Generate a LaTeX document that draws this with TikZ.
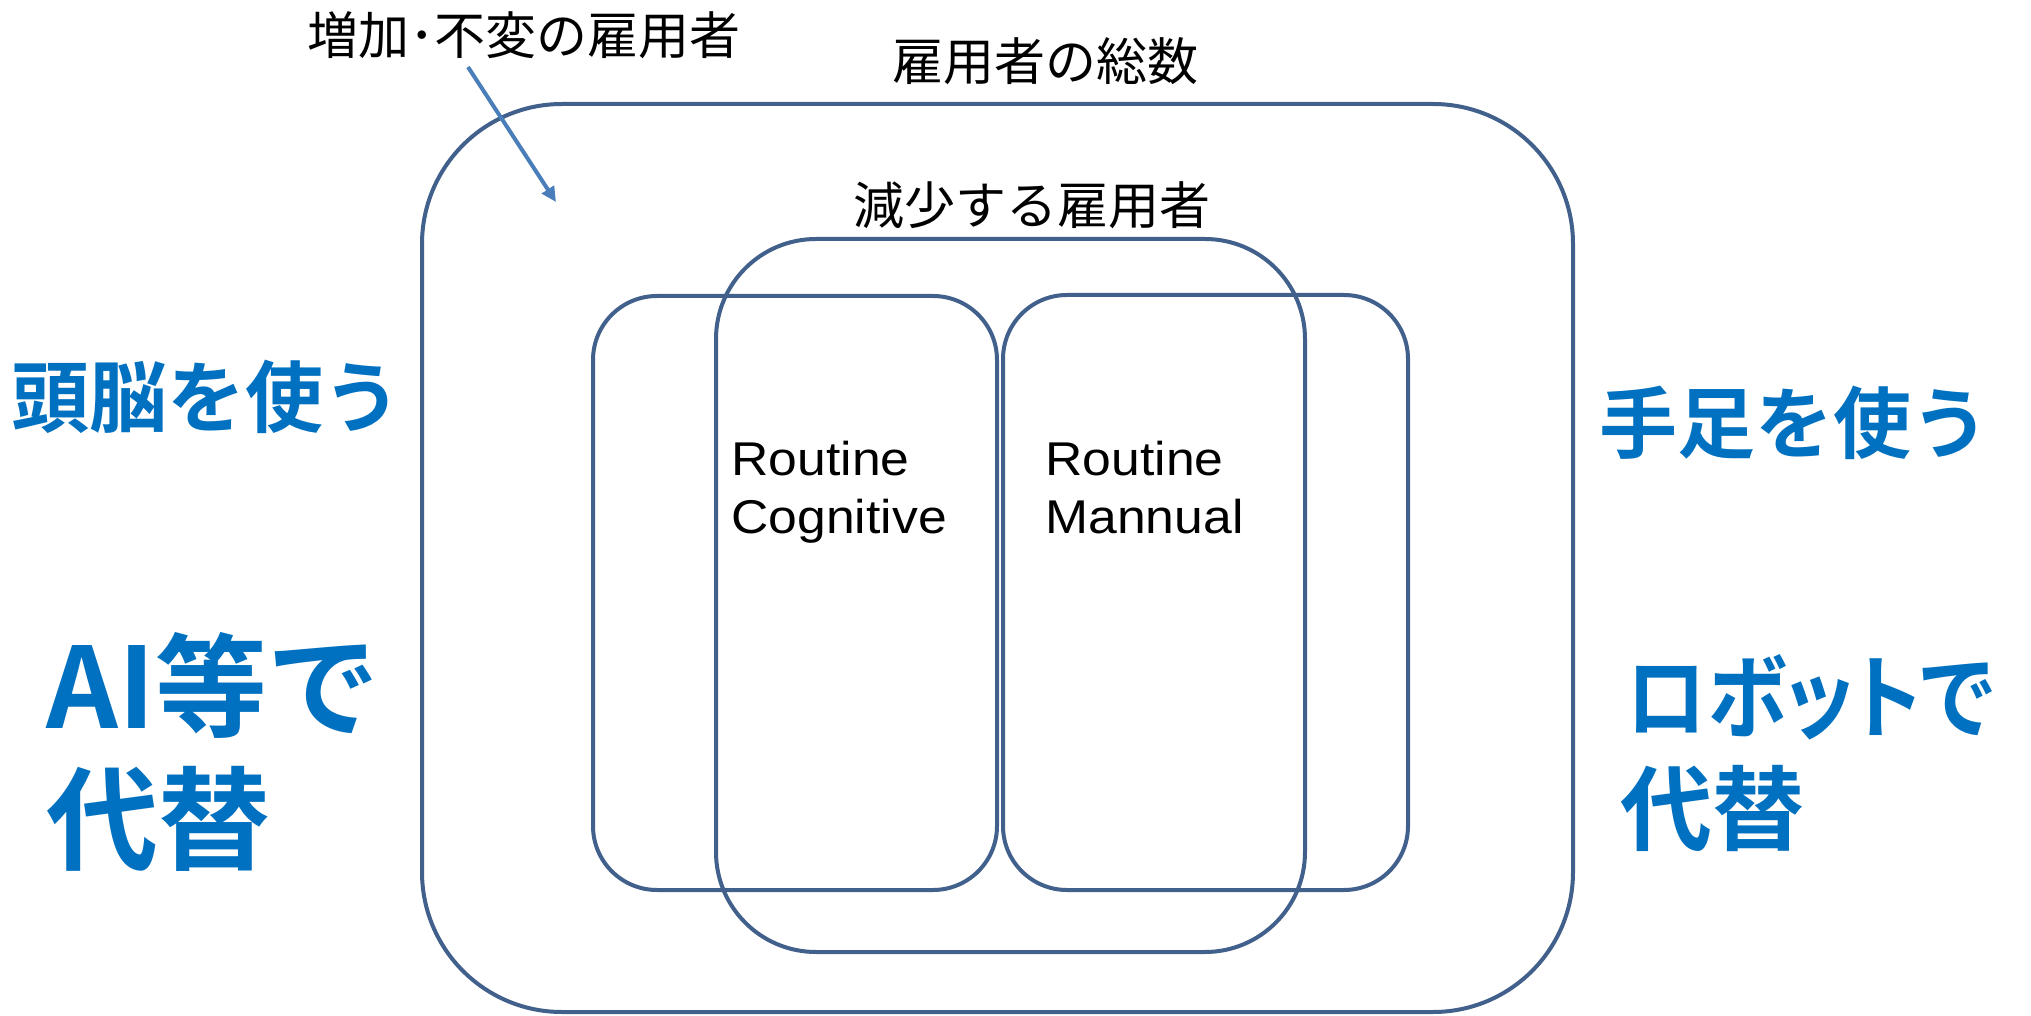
\documentclass[tikz,border=0pt]{standalone}
\usepackage{fontspec}
\usetikzlibrary{arrows.meta}
\newfontfamily\jpfont{Noto Sans CJK JP}
\newfontfamily\jpbold{Noto Sans CJK JP Bold}
\newfontfamily\jpboldp[RawFeature=+palt]{Noto Sans CJK JP Bold}
\newfontfamily\latfont{Liberation Sans}
\definecolor{boxc}{RGB}{65,96,140}
\definecolor{arrc}{RGB}{74,126,187}
\definecolor{bluet}{RGB}{0,112,192}
\tikzset{
  frame/.style={draw=boxc, line width=2pt, rectangle, inner sep=0pt},
  blk/.style={inner sep=0pt, font=\jpfont\fontsize{25.5pt}{30pt}\selectfont, text=black},
  lat/.style={inner sep=0pt, xscale=1.09, font=\latfont\fontsize{23.7pt}{28pt}\selectfont, text=black, anchor=base west},
  bluemid/.style={inner sep=0pt, anchor=base west, text=bluet, font=\jpbold\fontsize{39pt}{47pt}\selectfont},
  bluebig/.style={inner sep=0pt, anchor=base west, text=bluet, font=\jpbold\fontsize{56pt}{66pt}\selectfont},
  bluerob/.style={inner sep=0pt, anchor=base west, text=bluet, font=\jpboldp\fontsize{46pt}{54pt}\selectfont},
  arr/.style={draw=arrc, line width=2pt, -{Triangle[length=7.5pt,width=7pt]}}
}
\begin{document}
\begin{tikzpicture}[x=0.5pt,y=-0.5pt]
\useasboundingbox[fill=white] (0,0) rectangle (2031,1016);
% boxes
\node[frame, rounded corners=70pt, minimum width=575.5pt, minimum height=454pt] (outer) at (997.5,558) {};
\node[frame, rounded corners=32pt, minimum width=202pt, minimum height=297pt] (cog) at (795,593) {};
\node[frame, rounded corners=32pt, minimum width=202.5pt, minimum height=297.5pt] (man) at (1205.5,592.5) {};
\node[frame, rounded corners=50pt, minimum width=294.5pt, minimum height=356.5pt] (dec) at (1010.5,595.5) {};
% black labels
\node[blk, anchor=base west] (inc) at (307,55) {増加･不変の雇用者};
\node[blk, anchor=base] (total) at (1045,81) {雇用者の総数};
\node[blk, anchor=base] (declab) at (1032,225) {減少する雇用者};
% arrow
\coordinate (as) at (468,67);
\coordinate (ae) at (556,202);
\draw[arr] (as) -- (ae);
% routine labels
\node[lat] (cog1) at (731,475) {Routine};
\node[lat] (cog2) at (731,533) {Cognitive};
\node[lat] (man1) at (1045,475) {Routine};
\node[lat] (man2) at (1045,533) {Mannual};
% blue labels
\node[bluemid] (brain) at (11,427) {頭脳を使う};
\node[bluebig] (ai1) at (46,728) {AI等で};
\node[bluebig] (ai2) at (46,861) {代替};
\node[bluemid] (hand) at (1599,452) {手足を使う};
\node[bluerob, xscale=0.87] (rob1) at (1626,731) {ロボットで};
\node[bluerob] (rob2) at (1620,843) {代替};
\end{tikzpicture}
\end{document}
